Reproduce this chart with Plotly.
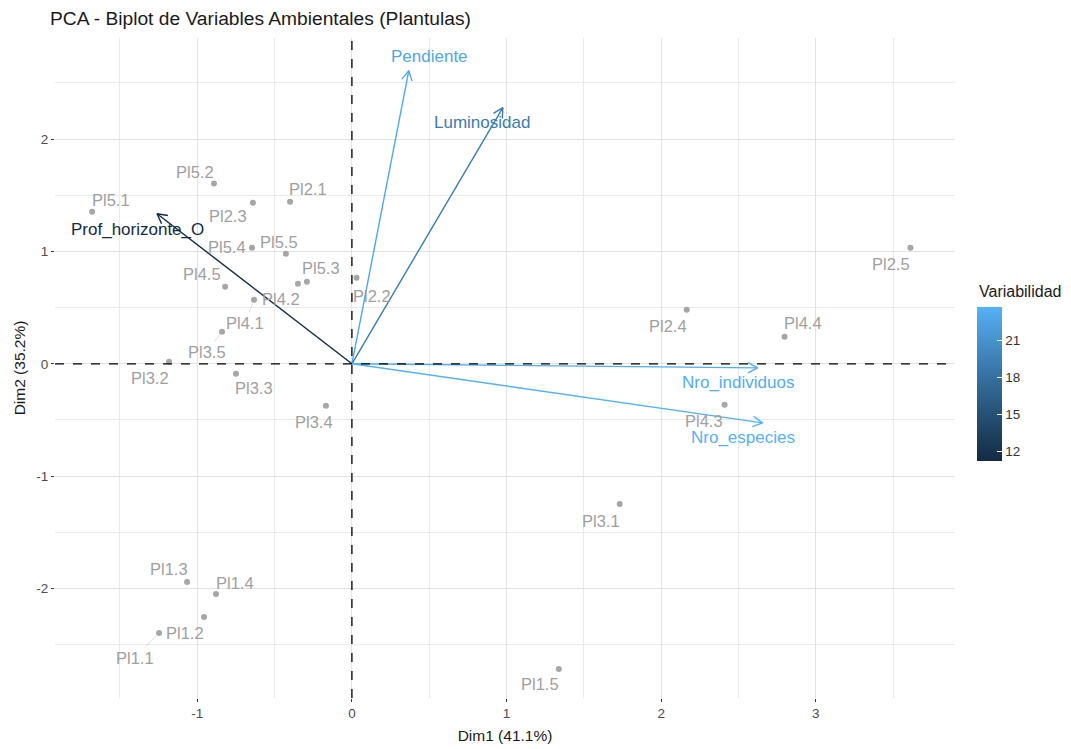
import numpy as np
import plotly.graph_objects as go
from plotly.colors import sample_colorscale

# ---------------- data ----------------
obs_names = ["Pl1.1", "Pl1.2", "Pl1.3", "Pl1.4", "Pl1.5",
             "Pl2.1", "Pl2.2", "Pl2.3", "Pl2.4", "Pl2.5",
             "Pl3.1", "Pl3.2", "Pl3.3", "Pl3.4", "Pl3.5",
             "Pl4.1", "Pl4.2", "Pl4.3", "Pl4.4", "Pl4.5",
             "Pl5.1", "Pl5.2", "Pl5.3", "Pl5.4", "Pl5.5"]
obs_dim1 = [-1.247, -0.956, -1.066, -0.879, 1.338,
            -0.400, 0.030, -0.640, 2.165, 3.612,
            1.732, -1.183, -0.750, -0.168, -0.840,
            -0.633, -0.349, 2.410, 2.798, -0.820,
            -1.680, -0.892, -0.291, -0.646, -0.427]
obs_dim2 = [-2.396, -2.254, -1.942, -2.049, -2.717,
            1.443, 0.766, 1.434, 0.481, 1.033,
            -1.247, 0.018, -0.089, -0.374, 0.285,
            0.570, 0.713, -0.365, 0.240, 0.686,
            1.354, 1.604, 0.731, 1.033, 0.980]

var_names = ["Pendiente", "Luminosidad", "Prof_horizonte_O", "Nro_individuos", "Nro_especies"]
var_dim1 = [0.368, 0.976, -1.260, 2.624, 2.656]
var_dim2 = [2.610, 2.280, 1.336, -0.036, -0.526]
var_contrib = [22.8, 19.0, 11.2, 23.3, 23.7]

x_ticks = [-1, 0, 1, 2, 3]
y_ticks = [-2, -1, 0, 1, 2]

# ---------------- styling / layout ----------------
FONT = "Liberation Sans, Arial, sans-serif"
XR = [-1.92, 3.90]
YR = [-2.975, 2.90]
ML, MR, MT, MB = 55, 116, 38, 51
W, H = 1071, 749
PW, PH = W - ML - MR, H - MT - MB
sx = PW / (XR[1] - XR[0])
sy = PH / (YR[1] - YR[0])

cscale = [[0.0, "#132B43"], [0.25, "#224A6C"], [0.5, "#336A98"],
          [0.75, "#448DC6"], [1.0, "#56B1F7"]]
cmin, cmax = min(var_contrib), max(var_contrib)

# label offsets in pixels (dx right, dy up), and whether a connector segment is drawn
obs_offsets = {
    "Pl5.1": (19, 12, False), "Pl5.2": (-19, 12, False), "Pl2.1": (18, 13, False),
    "Pl2.3": (-25, -13, False), "Pl5.4": (-25, 1, False), "Pl5.5": (-7, 12, False),
    "Pl5.3": (14, 14, False), "Pl4.2": (-17, -15, False), "Pl4.5": (-23, 13, False),
    "Pl4.1": (-9, -23, True), "Pl3.5": (-15, -20, True), "Pl3.2": (-19, -16, False),
    "Pl3.3": (18, -14, False), "Pl2.2": (15, -18, False), "Pl3.4": (-12, -16, False),
    "Pl1.3": (-18, 13, False), "Pl1.4": (19, 11, False), "Pl1.2": (-19, -16, False),
    "Pl1.1": (-24, -25, True), "Pl1.5": (-19, -15, False), "Pl3.1": (-19, -17, False),
    "Pl2.4": (-19, -16, False), "Pl4.4": (18, 14, False), "Pl4.3": (-21, -16, False),
    "Pl2.5": (-19, -16, False),
}
var_offsets = {
    "Pendiente": (21, 14), "Luminosidad": (-21, -15), "Prof_horizonte_O": (-20, -16),
    "Nro_individuos": (-20, -15), "Nro_especies": (-20, -15),
}

fig = go.Figure()

# observations
fig.add_trace(go.Scatter(
    x=obs_dim1, y=obs_dim2, mode="markers",
    marker=dict(color="#A6A6A6", size=6),
    hovertext=obs_names, showlegend=False))

annotations = []
GRAY_TXT = "#A0A0A0"
OBS_FS = 16.5
VAR_FS = 17
for n, x, y in zip(obs_names, obs_dim1, obs_dim2):
    dx, dy, conn = obs_offsets[n]
    if conn:
        annotations.append(dict(x=x, y=y, xref="x", yref="y", text=n, showarrow=True,
                                arrowhead=0, arrowwidth=0.6, arrowcolor="#C8C8C8",
                                ax=dx, ay=-dy, standoff=3,
                                font=dict(family=FONT, size=OBS_FS, color=GRAY_TXT)))
    else:
        annotations.append(dict(x=x, y=y, xref="x", yref="y", text=n, showarrow=False,
                                xshift=dx, yshift=dy,
                                font=dict(family=FONT, size=OBS_FS, color=GRAY_TXT)))

# variable arrows
var_colors = sample_colorscale(cscale, [(v - cmin) / (cmax - cmin) for v in var_contrib])
HEAD_LEN = 11
HEAD_ANG = np.deg2rad(28)
for n, x, y, col in zip(var_names, var_dim1, var_dim2, var_colors):
    fig.add_trace(go.Scatter(x=[0, x], y=[0, y], mode="lines",
                             line=dict(color=col, width=1.4),
                             hoverinfo="skip", showlegend=False))
    # open chevron head, computed in pixel space
    px, py = x * sx, y * sy
    ang = np.arctan2(py, px)
    hx, hy = [], []
    for s in (1, -1):
        a = ang + np.pi + s * HEAD_ANG
        hx.append(x + HEAD_LEN * np.cos(a) / sx)
        hy.append(y + HEAD_LEN * np.sin(a) / sy)
    fig.add_trace(go.Scatter(x=[hx[0], x, hx[1]], y=[hy[0], y, hy[1]], mode="lines",
                             line=dict(color=col, width=1.4),
                             hoverinfo="skip", showlegend=False))
    dx, dy = var_offsets[n]
    annotations.append(dict(x=x, y=y, xref="x", yref="y", text=n, showarrow=False,
                            xshift=dx, yshift=dy,
                            font=dict(family=FONT, size=VAR_FS, color=col)))

# colorbar title as annotation
annotations.append(dict(text="Variabilidad", xref="paper", yref="paper",
                        x=(977 - ML) / PW, y=(H - MB - 291) / PH,
                        xanchor="left", yanchor="middle", showarrow=False,
                        font=dict(family=FONT, size=16, color="#1A1A1A")))

# colorbar carrier
fig.add_trace(go.Scatter(
    x=var_dim1, y=var_dim2, mode="markers",
    marker=dict(size=0.1, opacity=0, color=var_contrib, colorscale=cscale,
                cmin=cmin, cmax=cmax, showscale=True,
                colorbar=dict(
                    tickvals=[12, 15, 18, 21], ticks="inside", ticklen=5,
                    tickcolor="white", tickwidth=1,
                    tickfont=dict(family=FONT, size=13.5, color="#333333"),
                    thickness=25, thicknessmode="pixels",
                    len=154, lenmode="pixels",
                    xpad=0, ypad=0,
                    x=(977 - ML) / PW, xanchor="left",
                    y=(H - MB - 384) / PH, yanchor="middle",
                    outlinewidth=0)),
    hoverinfo="skip", showlegend=False))

shapes = [
    dict(type="line", xref="x", yref="paper", x0=0, x1=0, y0=0, y1=1,
         line=dict(color="black", width=1.3, dash="dash")),
    dict(type="line", xref="paper", yref="y", x0=0, x1=1, y0=0, y1=0,
         line=dict(color="black", width=1.3, dash="dash")),
]

axis_common = dict(
    showgrid=True, gridcolor="#E2E2E2", gridwidth=1.1,
    zeroline=False, showline=False, automargin=False,
    ticks="outside", ticklen=3, tickcolor="#333333", tickwidth=1.2,
    tickfont=dict(family=FONT, size=13.5, color="#4D4D4D"),
    minor=dict(showgrid=True, gridcolor="#EBEBEB", gridwidth=0.8, dtick=0.5),
)

fig.update_layout(
    width=W, height=H,
    margin=dict(l=ML, r=MR, t=MT, b=MB, autoexpand=False),
    plot_bgcolor="white", paper_bgcolor="white",
    title=dict(text="PCA - Biplot de Variables Ambientales (Plantulas)",
               xref="container", x=50 / W, xanchor="left",
               yref="container", y=1 - 18 / H, yanchor="middle",
               pad=dict(l=0, r=0, t=0, b=0), automargin=False,
               font=dict(family=FONT, size=19.2, color="#1A1A1A")),
    xaxis=dict(range=XR, tickvals=x_ticks, ticktext=[str(v) for v in x_ticks],
               title=dict(text="Dim1 (41.1%)", standoff=9,
                          font=dict(family=FONT, size=15.5, color="#1A1A1A")),
               **axis_common),
    yaxis=dict(range=YR, tickvals=y_ticks, ticktext=[str(v) for v in y_ticks],
               title=dict(text="Dim2 (35.2%)", standoff=6,
                          font=dict(family=FONT, size=15.5, color="#1A1A1A")),
               **axis_common),
    shapes=shapes,
    annotations=annotations,
    font=dict(family=FONT),
)

fig.write_html("out.html", config={"displayModeBar": False},
               post_script="document.body.style.margin='0';document.body.style.padding='0';")
